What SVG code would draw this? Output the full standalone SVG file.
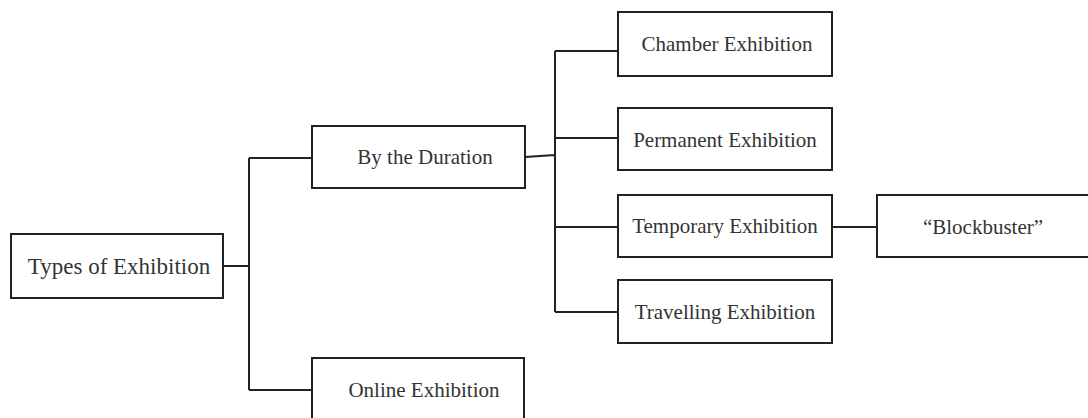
<svg xmlns="http://www.w3.org/2000/svg" width="1088" height="418" viewBox="0 0 1088 418">
<style>
.box{fill:#fff;stroke:#222;stroke-width:2}
.lbl{font-family:"Liberation Serif","Times New Roman",serif;font-size:21px;fill:#333;text-anchor:middle}
.big{font-size:23px}
.con{fill:none;stroke:#222;stroke-width:2}
</style>
<rect width="1088" height="418" fill="#fff"/>
<g id="connectors">
<path class="con" d="M223 266H249M249 158V390M249 158H312M249 390H312"/>
<path class="con" d="M525 157L555 155M555 51V312M555 51H618M555 138H618M555 227H618M555 312H618"/>
<path class="con" d="M832 227H877"/>
</g>
<g id="types"><rect class="box" x="11" y="234" width="212" height="64"/><text class="lbl big" x="119" y="274">Types of Exhibition</text></g>
<g id="duration"><rect class="box" x="312" y="126" width="213" height="62"/><text class="lbl" x="425" y="164">By the Duration</text></g>
<g id="online"><rect class="box" x="312" y="358" width="212" height="80"/><text class="lbl" x="424" y="397">Online Exhibition</text></g>
<g id="chamber"><rect class="box" x="618" y="12" width="214" height="64"/><text class="lbl" x="727" y="51">Chamber Exhibition</text></g>
<g id="permanent"><rect class="box" x="618" y="108" width="214" height="62"/><text class="lbl" x="725" y="147">Permanent Exhibition</text></g>
<g id="temporary"><rect class="box" x="618" y="195" width="214" height="62"/><text class="lbl" x="725" y="233">Temporary Exhibition</text></g>
<g id="travelling"><rect class="box" x="618" y="280" width="214" height="63"/><text class="lbl" x="725" y="319">Travelling Exhibition</text></g>
<g id="blockbuster"><rect class="box" x="877" y="195" width="230" height="62"/><text class="lbl" x="983" y="234">“Blockbuster”</text></g>
</svg>
